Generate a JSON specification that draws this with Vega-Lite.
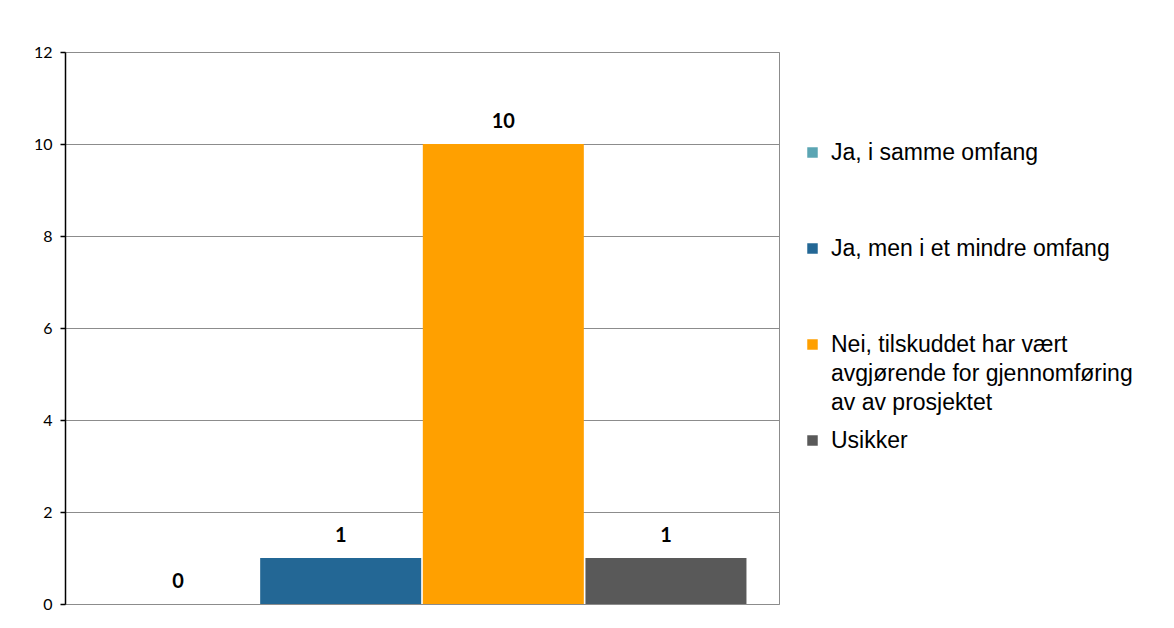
{
  "$schema": "https://vega.github.io/schema/vega-lite/v6.json",
  "width": 714,
  "height": 552,
  "autosize": "none",
  "padding": {"left": 65, "top": 52, "right": 395, "bottom": 24},
  "background": "white",
  "config": {
    "view": {"stroke": "#8c8c8c", "strokeWidth": 1},
    "font": "Lato"
  },
  "data": {
    "values": [
      {"svar": "Ja, i samme omfang", "antall": 0},
      {"svar": "Ja, men i et mindre omfang", "antall": 1},
      {"svar": "Nei, tilskuddet har vært avgjørende for gjennomføring av av prosjektet", "antall": 10},
      {"svar": "Usikker", "antall": 1}
    ]
  },
  "encoding": {
    "x": {
      "field": "svar",
      "type": "nominal",
      "sort": null,
      "axis": null,
      "scale": {"paddingInner": 0.01, "paddingOuter": 0.2}
    },
    "y": {
      "field": "antall",
      "type": "quantitative",
      "scale": {"domain": [0, 12], "nice": false},
      "axis": {
        "title": null,
        "values": [0, 2, 4, 6, 8, 10, 12],
        "grid": true,
        "gridColor": "#8c8c8c",
        "gridOpacity": 1,
        "gridWidth": 1,
        "domainColor": "#000000",
        "domainWidth": 1.5,
        "tickColor": "#000000",
        "tickSize": 5,
        "tickWidth": 1.5,
        "labelFont": "Lato",
        "labelFontSize": 16,
        "labelColor": "#000000",
        "labelPadding": 8
      }
    }
  },
  "layer": [
    {
      "mark": {"type": "bar"},
      "encoding": {
        "color": {
          "field": "svar",
          "type": "nominal",
          "sort": null,
          "scale": {
            "domain": [
              "Ja, i samme omfang",
              "Ja, men i et mindre omfang",
              "Nei, tilskuddet har vært avgjørende for gjennomføring av av prosjektet",
              "Usikker"
            ],
            "range": ["#5ba5b3", "#236795", "#ffa000", "#595959"]
          },
          "legend": {
            "title": null,
            "orient": "none",
            "legendX": 736,
            "legendY": 89,
            "padding": 0,
            "symbolType": "square",
            "symbolSize": 110,
            "symbolStrokeWidth": 0,
            "symbolOpacity": 1,
            "labelFont": "Liberation Sans",
            "labelFontSize": 23,
            "labelColor": "#000000",
            "labelLimit": 400,
            "labelOffset": 7,
            "labelBaseline": "middle",
            "rowPadding": 14,
            "labelExpr": "indexof(datum.label, 'Nei') == 0 ? ['Nei, tilskuddet har vært', 'avgjørende for gjennomføring', 'av av prosjektet'] : [datum.label, '', '']",
            "encode": {
              "labels": {"update": {"lineHeight": {"value": 29}}}
            }
          }
        }
      }
    },
    {
      "mark": {
        "type": "text",
        "dy": -22,
        "font": "Lato",
        "fontSize": 20,
        "fontWeight": "bold",
        "color": "#000000"
      },
      "encoding": {
        "text": {"field": "antall", "type": "quantitative"}
      }
    }
  ]
}
